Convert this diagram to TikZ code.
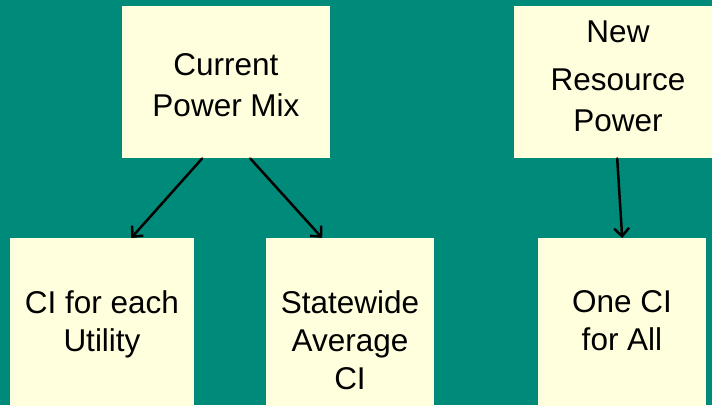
\documentclass[tikz,border=0pt]{standalone}
\usepackage{fontspec}
\setmainfont{Liberation Sans}
\usetikzlibrary{arrows.meta}
\definecolor{bg}{RGB}{0,138,122}
\definecolor{boxy}{RGB}{255,255,221}
\begin{document}
\begin{tikzpicture}[x=1pt,y=-1pt,
  box/.style={fill=boxy, draw=none, inner sep=0pt, anchor=north west},
  lbltop/.style={align=center, font=\fontsize{31.5}{41}\selectfont, text=black, inner sep=0pt},
  lblbot/.style={align=center, font=\fontsize{31.5}{38}\selectfont, text=black, inner sep=0pt},
  arr/.style={line width=2.5pt, line cap=round, -{Straight Barb[length=8pt,width=15pt,line width=2.5pt]}}]
\fill[bg] (0,0) rectangle (712,405);
\useasboundingbox (0,0) rectangle (712,405);
% boxes
\node[box, minimum width=208pt, minimum height=152pt] (cur) at (122,6) {};
\node[box, minimum width=208pt, minimum height=152pt] (new) at (514,6) {};
\node[box, minimum width=184pt, minimum height=180pt] (ci) at (10,238) {};
\node[box, minimum width=168pt, minimum height=180pt] (stat) at (266,238) {};
\node[box, minimum width=168pt, minimum height=180pt] (one) at (538,238) {};
% labels
\node[lbltop] (curt) at (226,85) {Current\\Power Mix};
\node[lbltop] (newt) at (618,76) {New\\[7pt]Resource\\Power};
\node[lblbot] (cit) at (102,324) {CI for each\\Utility};
\node[lblbot] (statt) at (350,340.5) {Statewide\\Average\\CI};
\node[lblbot] (onet) at (622,321) {One CI\\for All};
% arrows
\draw[arr] ([xshift=-24pt]cur.south) -- ([xshift=29pt]ci.north);
\draw[arr] ([xshift=24pt]cur.south) -- ([xshift=-28pt]stat.north);
\draw[arr] ([xshift=-1pt]new.south) -- (one.north);
\end{tikzpicture}
\end{document}
